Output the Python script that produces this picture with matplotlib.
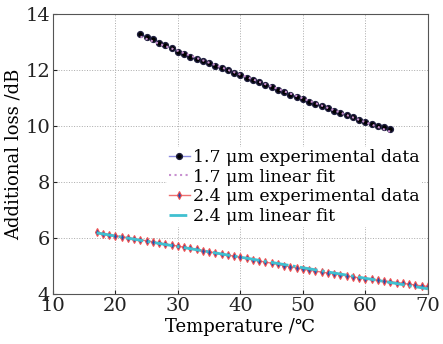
import numpy as np
import matplotlib
matplotlib.use("Agg")
import matplotlib.pyplot as plt

temp_17 = list(range(24, 65))
loss_17 = [13.27, 13.18, 13.10, 12.98, 12.88, 12.78, 12.66, 12.57, 12.48, 12.40,
           12.32, 12.24, 12.16, 12.08, 11.99, 11.91, 11.82, 11.73, 11.64, 11.56,
           11.47, 11.39, 11.30, 11.21, 11.12, 11.04, 10.95, 10.87, 10.79, 10.71,
           10.63, 10.55, 10.47, 10.39, 10.31, 10.23, 10.15, 10.08, 10.01, 9.95, 9.89]

temp_24 = list(range(17, 71))
loss_24 = [6.20, 6.16, 6.12, 6.08, 6.05, 6.01, 5.97, 5.93, 5.90, 5.86,
           5.82, 5.78, 5.75, 5.71, 5.67, 5.63, 5.59, 5.55, 5.51, 5.47,
           5.43, 5.39, 5.35, 5.31, 5.27, 5.23, 5.18, 5.14, 5.10, 5.06,
           5.01, 4.97, 4.93, 4.89, 4.85, 4.82, 4.78, 4.75, 4.72, 4.68,
           4.65, 4.61, 4.58, 4.55, 4.52, 4.49, 4.46, 4.44, 4.41, 4.38,
           4.35, 4.32, 4.29, 4.27]

labels = ["1.7 \u03bcm experimental data", "1.7 \u03bcm linear fit",
          "2.4 \u03bcm experimental data", "2.4 \u03bcm linear fit"]

plt.rcParams['font.family'] = ['DejaVu Serif']
plt.rcParams['mathtext.fontset'] = 'dejavuserif'

fig = plt.figure(figsize=(4.43, 3.44), dpi=100)
ax = fig.add_axes([0.1196, 0.1453, 0.8464, 0.814])

# linear fits
t17 = np.array(temp_17)
t24 = np.array(temp_24)
p17 = np.polyfit(t17, loss_17, 1)
p24 = np.polyfit(t24, loss_24, 1)

ax.plot(temp_17, loss_17, '-o', color='#8a8ae0', lw=1.0, mfc='black', mec='#202040',
        ms=4.2, label=labels[0], zorder=3)
ax.plot(t17, np.polyval(p17, t17), ':', color='#c890d0', lw=1.5, label=labels[1], zorder=4)
ax.plot(temp_24, loss_24, '-d', color='#f07070', lw=1.0, mfc='#2050b0', mec='#f05050',
        ms=4.2, mew=0.8, label=labels[2], zorder=3)
ax.plot(t24, np.polyval(p24, t24), '-.', color='#40c0d0', lw=2.0, label=labels[3], zorder=4)

ax.set_xlim(10, 70)
ax.set_ylim(4, 14)
ax.set_xticks(range(10, 71, 10))
ax.set_yticks(range(4, 15, 2))
ax.tick_params(direction='in', labelsize=14, length=3, pad=2, colors='#222222')
ax.grid(True, linestyle=':', color='#aaaaaa', lw=0.7)
for s in ax.spines.values():
    s.set_color('#555555')
    s.set_zorder(6)

ax.set_xlabel('Temperature /\u2103', fontsize=13, labelpad=2)
ax.set_ylabel('Additional loss /dB', fontsize=13, labelpad=2)

leg = ax.legend(loc='upper left', bbox_to_anchor=(0.305, 0.525), fontsize=12.5,
                frameon=True, edgecolor='none', framealpha=1, fancybox=False,
                handlelength=1.2, handletextpad=0.2, labelspacing=0.16,
                borderpad=0.1, borderaxespad=0)

fig.savefig('out.png', dpi=100)
